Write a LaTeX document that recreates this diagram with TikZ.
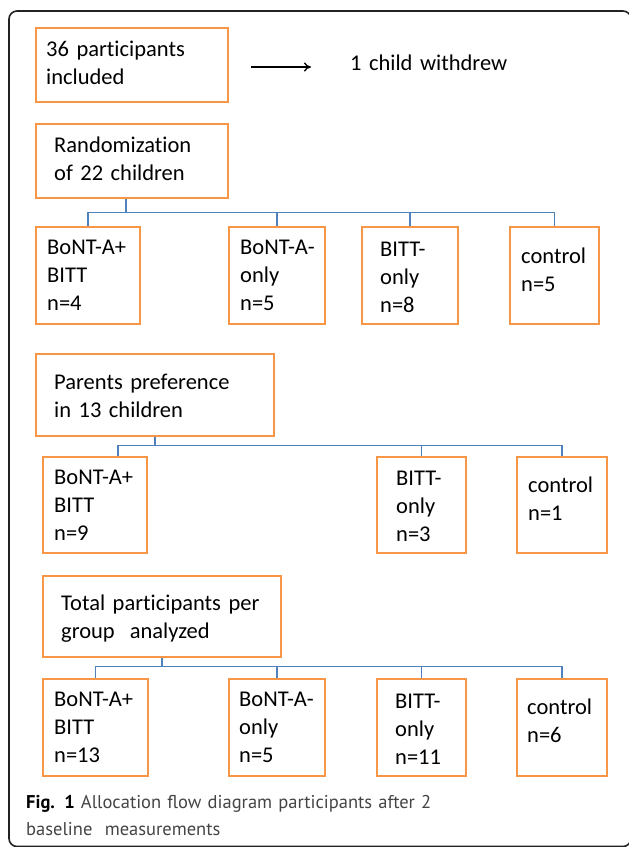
\documentclass[tikz,border=0pt]{standalone}
\usepackage{fontspec}
\setmainfont{Carlito}[Ligatures=NoCommon]
\newfontfamily\capfont{PT Sans}
\usetikzlibrary{arrows.meta,calc}
\definecolor{boxorange}{HTML}{F79646}
\definecolor{treeblue}{HTML}{4F81BD}
\definecolor{capgray}{HTML}{444444}
\definecolor{framegray}{HTML}{222222}
\tikzset{
  obox/.style={draw=boxorange, line width=2.6pt, inner sep=0pt},
  txt/.style={anchor=base west, inner sep=0pt, text width=320pt, align=left,
    font=\fontsize{22.5}{28.4}\selectfont},
  tree/.style={draw=treeblue, line width=1.2pt},
  flow/.style={draw=black, line width=1.3pt, -{To[length=7pt,width=9pt]}}
}
\begin{document}
\begin{tikzpicture}[x=1pt,y=-1pt]
\useasboundingbox (0,0) rectangle (629,847);
\clip (0,0) rectangle (629,847);
% frame
\draw[framegray, line width=1.6pt, rounded corners=8pt] (9,11) rectangle (631,846.5);

% top boxes
\node[obox, minimum width=192pt, minimum height=74pt] (b1) at (132,65) {};
\node[txt] (b1t) at (46,56) {36 participants\\included};
\coordinate (arrS) at (251,67);
\coordinate (arrE) at (311,67);
\draw[flow] (arrS) -- (arrE);
\node[txt] (wd) at (350,70) {1 child withdrew};

\node[obox, minimum width=192pt, minimum height=74pt] (b2) at (132,161) {};
\node[txt] (b2t) at (54,152) {Randomization\\of 22 children};

% row 1
\node[obox, minimum width=104pt, minimum height=97pt] (r1a) at (88,275.5) {};
\node[obox, minimum width=96pt, minimum height=97pt] (r1b) at (277,275.5) {};
\node[obox, minimum width=96pt, minimum height=97pt] (r1c) at (410,275.5) {};
\node[obox, minimum width=89pt, minimum height=97pt] (r1d) at (554.5,275.5) {};
\node[txt] (r1at) at (47,254) {BoNT-A+\\BITT\\n=4};
\node[txt] (r1bt) at (240,254) {BoNT-A-\\only\\n=5};
\node[txt] (r1ct) at (380,256) {BITT-\\only\\n=8};
\node[txt] (r1dt) at (521,263) {control\\n=5};

\coordinate (j1) at ($(b2.south)+(-6,0)$);
\draw[tree] (j1) -- ++(0,13) coordinate (h1);
\draw[tree] (r1a.north) |- (h1) -| (r1d.north);
\draw[tree] (r1b.north) -- (r1b.north |- h1);
\draw[tree] (r1c.north) -- (r1c.north |- h1);

% parents preference
\node[obox, minimum width=238pt, minimum height=82pt] (b3) at (155,395) {};
\node[txt] (b3t) at (54,389) {Parents preference\\in 13 children};

\node[obox, minimum width=104pt, minimum height=96pt] (r2a) at (95,505) {};
\node[obox, minimum width=89pt, minimum height=96pt] (r2c) at (421.5,505) {};
\node[obox, minimum width=90pt, minimum height=96pt] (r2d) at (562,505) {};
\node[txt] (r2at) at (54,484) {BoNT-A+\\BITT\\n=9};
\node[txt] (r2ct) at (396,485) {BITT-\\only\\n=3};
\node[txt] (r2dt) at (528,492) {control\\n=1};

\draw[tree] (b3.south) -- ++(0,8) coordinate (h2);
\coordinate (d2a) at ($(r2a.north)+(23,0)$);
\draw[tree] (d2a) |- (h2) -| (r2d.north);
\draw[tree] (r2c.north) -- (r2c.north |- h2);

% total
\node[obox, minimum width=238pt, minimum height=81pt] (b4) at (162,616.5) {};
\node[txt] (b4t) at (61,610) {Total participants per\\group\ \ analyzed};

\node[obox, minimum width=105pt, minimum height=97pt] (r3a) at (95.5,727.5) {};
\node[obox, minimum width=96pt, minimum height=97pt] (r3b) at (277,727.5) {};
\node[obox, minimum width=89pt, minimum height=97pt] (r3c) at (421.5,727.5) {};
\node[obox, minimum width=90pt, minimum height=97pt] (r3d) at (562,727.5) {};
\node[txt] (r3at) at (54,706) {BoNT-A+\\BITT\\n=13};
\node[txt] (r3bt) at (239,706) {BoNT-A-\\only\\n=5};
\node[txt] (r3ct) at (395,708) {BITT-\\only\\n=11};
\node[txt] (r3dt) at (527,714) {control\\n=6};

\draw[tree] (b4.south) -- ++(0,8) coordinate (h3);
\draw[tree] (r3a.north) |- (h3) -| (r3d.north);
\draw[tree] (r3b.north) -- (r3b.north |- h3);
\draw[tree] (r3c.north) -- (r3c.north |- h3);

% caption
\node[anchor=base west, inner sep=0pt, text width=460pt, align=left,
  font=\capfont\fontsize{18.5}{27}\selectfont, text=capgray] (cap) at (26,808)
  {\makebox[448pt][s]{\mbox{\textcolor{black}{\textbf{Fig. 1}}} Allocation flow diagram participants after 2}\\baseline\ \ measurements};
\end{tikzpicture}
\end{document}
